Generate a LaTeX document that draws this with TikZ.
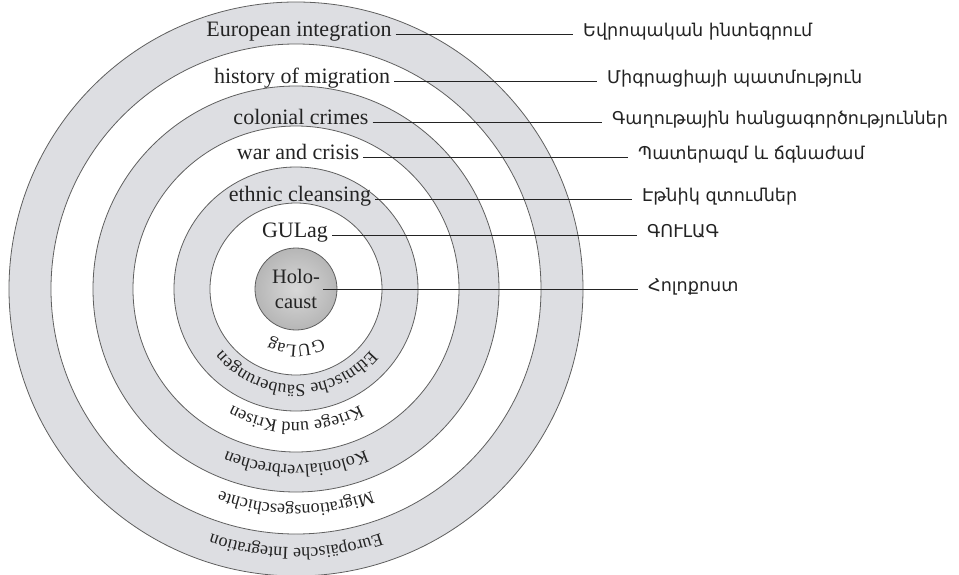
\documentclass[tikz,border=0pt]{standalone}
\usepackage{fontspec}
\setmainfont{Liberation Serif}
\newfontfamily\armfont{DejaVu Sans}
\usetikzlibrary{decorations.text}

\definecolor{ringgray}{RGB}{221,222,226}
\definecolor{edgegray}{RGB}{95,95,95}
\definecolor{holoout}{RGB}{182,182,182}
\definecolor{holoin}{RGB}{216,216,216}
\definecolor{inkgray}{RGB}{35,35,35}

% upside-down label on the lower half of a ring
\newcommand{\ringlabel}[2]{%
  \path[decorate,decoration={text along path,text align=center,text color=inkgray,
      text={|\fontsize{18}{18}\selectfont|#2}}]
    (-10:#1) arc[start angle=-10,end angle=-170,radius=#1];}

\begin{document}
\begin{tikzpicture}[x=1pt,y=1pt,
    enlbl/.style={font=\fontsize{22}{26}\selectfont,text=inkgray,inner xsep=4pt,anchor=mid},
    amlbl/.style={font=\armfont\fontsize{17.6}{20}\selectfont,text=inkgray,inner xsep=10pt,anchor=mid west},
    leader/.style={draw=inkgray,line width=.9pt}]
    \useasboundingbox (-296,-285) rectangle (663,289);

    \foreach \r/\c in {287/ringgray,245/white,203/ringgray,163/white,122/ringgray,86/white}
        \draw[edgegray,line width=.8pt,fill=\c] (0,0) circle[radius=\r];
    \node[circle,draw=edgegray,line width=.8pt,minimum size=82pt,inner sep=0pt,
        inner color=holoin,outer color=holoout,align=center,
        font=\fontsize{20.5}{25}\selectfont,text=inkgray] (holo) at (0,0) {Holo-\\caust};

    \node[enlbl] (euint) at (3,255) {European integration};
    \node[enlbl] (migr) at (6,208) {history of migration};
    \node[enlbl] (colon) at (5,167) {colonial crimes};
    \node[enlbl] (war) at (2,132) {war and crisis};
    \node[enlbl] (ethn) at (4,90) {ethnic cleansing};
    \node[enlbl] (gulag) at (-1,54) {GULag};

    \node[amlbl] (am-euint) at (277,255) {Եվրոպական ինտեգրում};
    \node[amlbl] (am-migr) at (301,208) {Միգրացիայի պատմություն};
    \node[amlbl] (am-colon) at (306,167) {Գաղութային հանցագործություններ};
    \node[amlbl] (am-war) at (332,132) {Պատերազմ և ճգնաժամ};
    \node[amlbl] (am-ethn) at (336,90) {Էթնիկ զտումներ};
    \node[amlbl] (am-gulag) at (341,54) {ԳՈՒԼԱԳ};
    \node[amlbl] (am-holo) at (342,0) {Հոլոքոստ};

    \draw[leader] (euint.mid east) -- (am-euint.mid west);
    \draw[leader] (migr.mid east) -- (am-migr.mid west);
    \draw[leader] (colon.mid east) -- (am-colon.mid west);
    \draw[leader] (war.mid east) -- (am-war.mid west);
    \draw[leader] (ethn.mid east) -- (am-ethn.mid west);
    \draw[leader] (gulag.mid east) -- (am-gulag.mid west);
    \draw[leader] (holo.center) ++(27,0) -- (am-holo.mid west);

    \ringlabel{56}{GULag}
    \ringlabel{96}{Ethnische Säuberungen}
    \ringlabel{133}{Kriege und Krisen}
    \ringlabel{176}{Kolonialverbrechen}
    \ringlabel{216}{Migrationsgeschichte}
    \ringlabel{259}{Europäische Integration}
\end{tikzpicture}
\end{document}
